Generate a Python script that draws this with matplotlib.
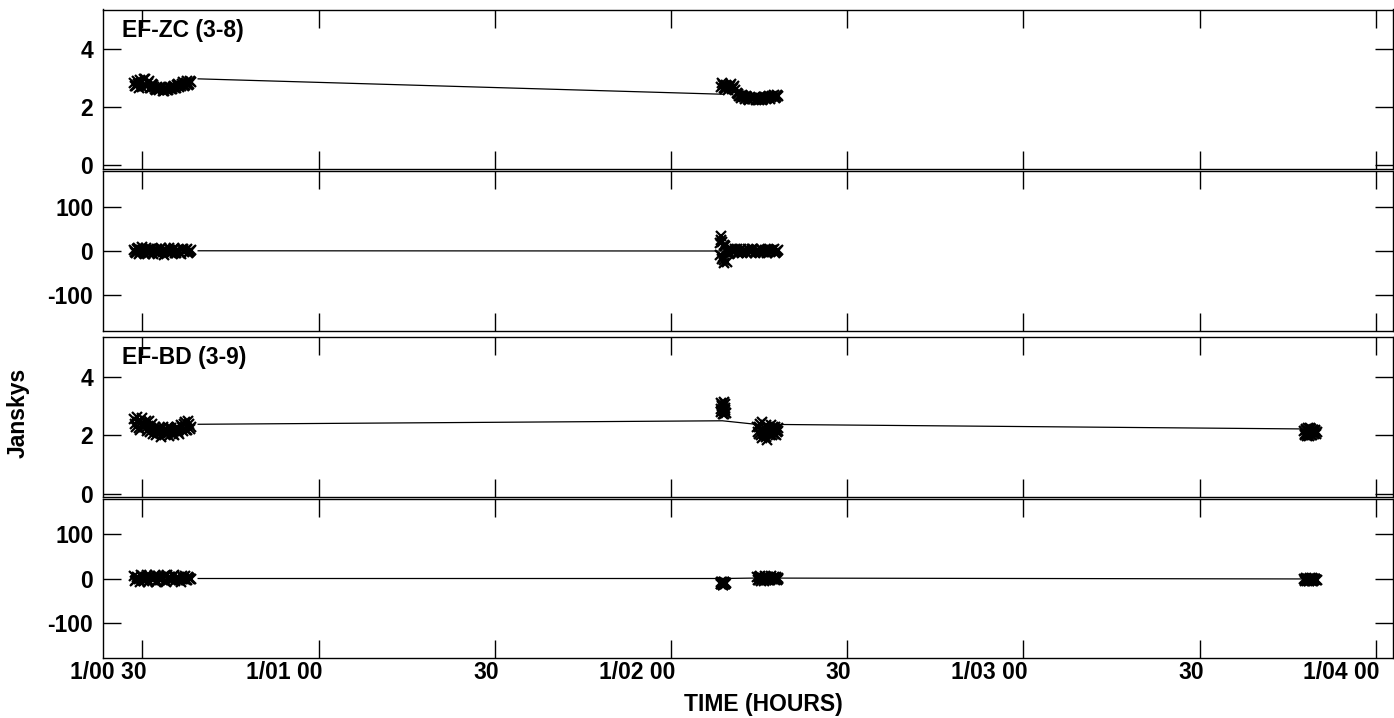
import matplotlib
matplotlib.use("Agg")
import matplotlib.pyplot as plt
import matplotlib.transforms as mtransforms

plt.rcParams['font.family'] = ['Liberation Sans', 'DejaVu Sans']
plt.rcParams['font.weight'] = 'bold'

# ---- data (time in hours of day 1) ----
t_c1 = [0.476, 0.482, 0.488, 0.494, 0.500, 0.506, 0.512, 0.518, 0.524, 0.530,
        0.536, 0.542, 0.548, 0.554, 0.560, 0.566, 0.572, 0.578, 0.584, 0.590,
        0.596, 0.602, 0.608, 0.614, 0.620, 0.626, 0.632, 0.638]
t_c1b = [0.479, 0.485, 0.491, 0.497, 0.503, 0.509, 0.515, 0.521, 0.527, 0.533,
         0.539, 0.545, 0.551, 0.557, 0.563, 0.569, 0.575, 0.581, 0.587, 0.593,
         0.599, 0.605, 0.611, 0.617, 0.623, 0.629, 0.635]
t_c2 = [2.141, 2.147, 2.153, 2.159, 2.165, 2.171, 2.177, 2.183, 2.189, 2.195,
        2.201, 2.207, 2.213, 2.219, 2.225, 2.231, 2.237, 2.243, 2.249, 2.255,
        2.261, 2.267, 2.273, 2.279, 2.285, 2.291, 2.297, 2.303]
t_c2b = [2.144, 2.150, 2.156, 2.162, 2.168, 2.174, 2.180, 2.186, 2.192, 2.198,
         2.204, 2.210, 2.216, 2.222, 2.228, 2.234, 2.240, 2.246, 2.252, 2.258,
         2.264, 2.270, 2.276, 2.282, 2.288, 2.294, 2.300]
t_col = [2.138, 2.140, 2.143, 2.145, 2.149, 2.151]
t_c2a = [2.141, 2.143, 2.145, 2.147, 2.149, 2.151, 2.153, 2.155]
t_c2ab = [2.142, 2.144, 2.146, 2.148, 2.150, 2.152, 2.154]
t_c3 = [2.245, 2.249, 2.253, 2.257, 2.261, 2.265, 2.269, 2.273, 2.277, 2.281,
        2.285, 2.289, 2.293, 2.297, 2.301, 2.305]
t_c3b = [2.247, 2.251, 2.255, 2.259, 2.263, 2.267, 2.271, 2.275, 2.279, 2.283,
         2.287, 2.291, 2.295, 2.299, 2.303]
t_c4 = [3.796, 3.799, 3.802, 3.805, 3.808, 3.811, 3.814, 3.817, 3.820, 3.823,
        3.826, 3.829, 3.833]
t_c4b = [3.798, 3.801, 3.804, 3.807, 3.810, 3.813, 3.816, 3.819, 3.822, 3.825,
         3.828, 3.831]

# EF-ZC (3-8)
zc_amp_c1 = [2.85, 2.72, 2.80, 2.95, 2.70, 2.98, 2.75, 2.90, 2.68, 2.78, 2.62, 2.70, 2.58, 2.66,
             2.55, 2.64, 2.60, 2.70, 2.63, 2.74, 2.68, 2.80, 2.72, 2.86, 2.76, 2.90, 2.80, 2.88]
zc_amp_c1b = [2.74, 2.90, 2.68, 2.82, 2.96, 2.72, 2.84, 2.66, 2.80, 2.70, 2.60, 2.64, 2.70, 2.56,
              2.66, 2.58, 2.68, 2.62, 2.70, 2.66, 2.76, 2.70, 2.80, 2.74, 2.84, 2.78, 2.92]
zc_amp_c2 = [2.70, 2.78, 2.62, 2.75, 2.66, 2.80, 2.68, 2.60, 2.45, 2.38, 2.42, 2.34, 2.38, 2.30,
             2.36, 2.28, 2.34, 2.30, 2.26, 2.33, 2.29, 2.36, 2.31, 2.38, 2.34, 2.42, 2.36, 2.40]
zc_amp_c2b = [2.82, 2.66, 2.76, 2.60, 2.72, 2.64, 2.74, 2.50, 2.40, 2.32, 2.40, 2.30, 2.36, 2.26,
              2.32, 2.28, 2.24, 2.32, 2.28, 2.26, 2.34, 2.28, 2.35, 2.30, 2.38, 2.33, 2.42]
zc_ph_c1 = [3, -5, 6, -2, 8, -6, 2, -4, 5, -7, 1, 4, -3, 6, -8, 2, -5, 3, -2, 7, -4, 1, -6, 5,
            -1, 4, -3, 2]
zc_ph_c1b = [-3, 5, -6, 2, -4, 7, -2, 4, -5, 3, -1, -6, 5, -3, 4, -2, 6, -4, 3, -5, 2, -3, 5,
             -2, 3, -4, 1]
zc_ph_c2 = [33, -14, 12, -24, -6, 4, -3, 5, -4, 3, -5, 2, -3, 4, -2, 5, -4, 1, -3, 4, -2, 3,
            -5, 2, -1, 4, -3, 2]
zc_ph_c2b = [20, -20, 0, 3, -4, 2, -3, 4, -2, 5, -3, 1, -4, 2, -3, 4, -1, 3, -4, 2, -3, 1, 4,
             -2, 3, -4, 1]
zc_ph_col = [18, -8, 25, -18, 14, -28]
zc_line_t = [0.658, 2.146]
zc_amp_line = [2.98, 2.45]
zc_ph_line = [0.5, 0.0]

# EF-BD (3-9)
bd_amp_c1 = [2.55, 2.30, 2.45, 2.20, 2.60, 2.35, 2.15, 2.50, 2.25, 2.05, 2.30, 2.10, 2.25, 1.95,
             2.20, 2.05, 2.30, 2.10, 2.15, 2.00, 2.25, 2.10, 2.35, 2.15, 2.45, 2.20, 2.40, 2.30]
bd_amp_c1b = [2.40, 2.62, 2.25, 2.42, 2.28, 2.50, 2.32, 2.12, 2.38, 2.18, 2.00, 2.22, 2.08, 2.28,
              2.12, 2.20, 1.98, 2.24, 2.05, 2.20, 2.30, 2.05, 2.28, 2.38, 2.18, 2.50, 2.22]
bd_amp_c2a = [3.10, 2.80, 3.00, 2.75, 3.15, 2.85, 2.95, 2.78]
bd_amp_c2ab = [2.90, 3.05, 2.82, 2.98, 2.72, 3.08, 2.88]
bd_amp_c3 = [2.30, 2.05, 2.40, 1.90, 2.20, 2.10, 2.35, 1.85, 2.25, 2.00, 2.15, 2.30, 2.05, 2.20,
             2.10, 2.25]
bd_amp_c3b = [2.10, 2.28, 2.00, 2.45, 2.05, 2.25, 1.95, 2.30, 2.12, 2.35, 2.02, 2.18, 2.28, 2.00,
              2.15]
bd_amp_c4 = [2.15, 2.00, 2.20, 2.05, 2.25, 1.98, 2.12, 2.22, 2.02, 2.18, 2.08, 2.20, 2.10]
bd_amp_c4b = [2.05, 2.22, 1.98, 2.15, 2.08, 2.24, 2.00, 2.12, 2.20, 2.04, 2.16, 2.06]
bd_ph_c1 = [6, -4, 2, -8, 4, -2, 9, -5, 1, -3, 7, -6, 3, -1, 5, -9, 2, 4, -4, 8, -2, 3, -7, 1,
            5, -3, 2, -1]
bd_ph_c1b = [-6, 4, -2, 7, -5, 3, -8, 5, -1, 4, -7, 6, -3, 2, -5, 8, -2, -4, 5, -6, 2, -3, 6,
             -1, -4, 3, -2]
bd_ph_c2a = [-8, -12, -10, -14, -9, -11, -13, -10]
bd_ph_c2ab = [-13, -9, -11, -15, -8, -12, -10]
bd_ph_c3 = [3, -4, 5, -2, 1, -5, 4, -1, 2, -3, 6, -2, 1, 3, -4, 2]
bd_ph_c3b = [-3, 4, -5, 2, -1, 5, -3, 3, -4, 1, -2, 4, -3, 2, -1]
bd_ph_c4 = [-2, -5, 1, -4, 0, -6, -1, -3, 2, -5, -2, 0, -4]
bd_ph_c4b = [-4, 0, -6, -2, -5, 1, -3, -6, -1, -4, 0, -3]
bd_line_t = [0.658, 2.146, 2.240, 3.789]
bd_amp_line = [2.38, 2.50, 2.38, 2.22]
bd_ph_line = [0.0, 0.0, 1.0, -1.0]

xticks = [0.5, 1.0, 1.5, 2.0, 2.5, 3.0, 3.5, 4.0]
xticklabels = ["1/00 30", "1/01 00", "30", "1/02 00", "30", "1/03 00", "30", "1/04 00"]

# ---- figure ----
fig = plt.figure(figsize=(13.94, 7.18), dpi=100)
W, H = 1394.0, 718.0
panels = [(9.5, 168.5), (171, 331), (337.3, 496.7), (499, 658)]
axes = []
for top, bot in panels:
    ax = fig.add_axes([103 / W, 1 - bot / H, 1290 / W, (bot - top) / H])
    axes.append(ax)

mk = dict(marker='x', linestyle='none', color='black', markersize=7.5, markeredgewidth=1.6)
ln = dict(color='black', linewidth=0.9)

ax1, ax2, ax3, ax4 = axes
ax1.plot(zc_line_t, zc_amp_line, **ln)
ax1.plot(t_c1, zc_amp_c1, **mk)
ax1.plot(t_c1b, zc_amp_c1b, **mk)
ax1.plot(t_c2, zc_amp_c2, **mk)
ax1.plot(t_c2b, zc_amp_c2b, **mk)
ax2.plot(zc_line_t, zc_ph_line, **ln)
ax2.plot(t_c1, zc_ph_c1, **mk)
ax2.plot(t_c1b, zc_ph_c1b, **mk)
ax2.plot(t_c2, zc_ph_c2, **mk)
ax2.plot(t_c2b, zc_ph_c2b, **mk)
ax2.plot(t_col, zc_ph_col, **mk)

ax3.plot(bd_line_t, bd_amp_line, **ln)
ax3.plot(t_c1, bd_amp_c1, **mk)
ax3.plot(t_c1b, bd_amp_c1b, **mk)
ax3.plot(t_c2a, bd_amp_c2a, **mk)
ax3.plot(t_c2ab, bd_amp_c2ab, **mk)
ax3.plot(t_c3, bd_amp_c3, **mk)
ax3.plot(t_c3b, bd_amp_c3b, **mk)
ax3.plot(t_c4, bd_amp_c4, **mk)
ax3.plot(t_c4b, bd_amp_c4b, **mk)
ax4.plot(bd_line_t, bd_ph_line, **ln)
ax4.plot(t_c1, bd_ph_c1, **mk)
ax4.plot(t_c1b, bd_ph_c1b, **mk)
ax4.plot(t_c2a, bd_ph_c2a, **mk)
ax4.plot(t_c2ab, bd_ph_c2ab, **mk)
ax4.plot(t_c3, bd_ph_c3, **mk)
ax4.plot(t_c3b, bd_ph_c3b, **mk)
ax4.plot(t_c4, bd_ph_c4, **mk)
ax4.plot(t_c4b, bd_ph_c4b, **mk)

for i, ax in enumerate(axes):
    ax.set_xlim(0.388, 4.049)
    if i % 2 == 0:
        ax.set_ylim(-0.11, 5.37)
        ax.set_yticks([0, 2, 4])
        ax.set_yticklabels(["0", "2", "4"])
    else:
        ax.set_ylim(-180, 180)
        ax.set_yticks([-100, 0, 100])
        ax.set_yticklabels(["-100", "0", "100"])
    ax.set_xticks(xticks)
    ax.tick_params(direction='in', length=13, width=1.0, top=True, right=True,
                   labelsize=16.5, pad=7)
    ax.tick_params(axis='x', pad=2.5)
    for s in ax.spines.values():
        s.set_linewidth(1.0)
    if i < 3:
        ax.set_xticklabels([])
    else:
        ax.set_xticklabels(xticklabels)
        off = mtransforms.ScaledTranslation(4 / 100, 0, fig.dpi_scale_trans)
        for lab in ax.get_xticklabels():
            lab.set_horizontalalignment('right')
            lab.set_transform(lab.get_transform() + off)
    for lab in ax.get_yticklabels() + ax.get_xticklabels():
        lab.set_fontweight('bold')

ax1.text(0.0145, 0.825, "EF-ZC (3-8)", transform=ax1.transAxes, fontsize=16.5,
         fontweight='bold', va='baseline', ha='left')
ax3.text(0.0145, 0.83, "EF-BD (3-9)", transform=ax3.transAxes, fontsize=16.5,
         fontweight='bold', va='baseline', ha='left')

fig.text(763 / W, 7 / H, "TIME (HOURS)", fontsize=16.5, fontweight='bold',
         ha='center', va='baseline')
fig.text(18 / W, 1 - 413 / H, "Janskys", fontsize=16.5, fontweight='bold',
         rotation=90, ha='center', va='center')

fig.savefig("out.png", dpi=100)
